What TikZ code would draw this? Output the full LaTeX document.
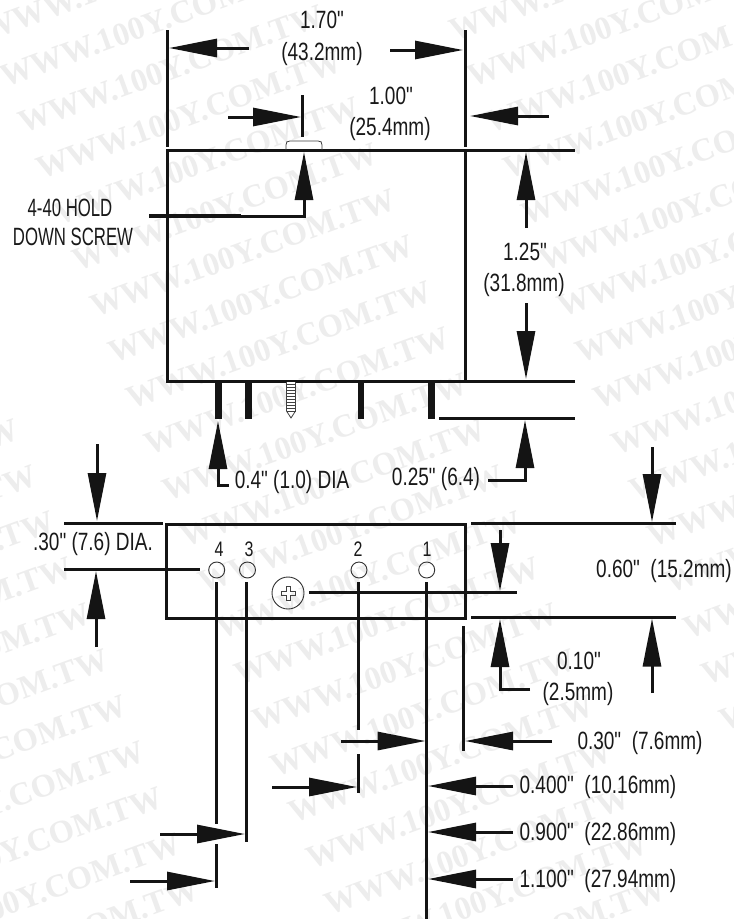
\documentclass[tikz,border=0pt]{standalone}
\usepackage{fontspec}
\usetikzlibrary{arrows.meta}
\newfontfamily\narrowface[FakeStretch=0.76]{Liberation Sans}
\newfontfamily\capsface[FakeStretch=0.67]{Liberation Sans}
\newfontfamily\markface{Liberation Serif Bold}
\tikzset{
  lab/.style={inner sep=0pt,text=black!90,font=\narrowface\fontsize{25}{25}\selectfont},
  capslab/.style={lab,font=\capsface\fontsize{25}{25}\selectfont},
  digitlab/.style={lab,font=\narrowface\fontsize{21}{21}\selectfont},
  outline/.style={line width=3pt,black!92,line cap=butt},
  extline/.style={line width=3pt,black!92},
  dimline/.style={line width=3pt,black!92,-{Triangle[length=48pt,width=18pt,sep=0pt]}},
  thinline/.style={line width=0.8pt,black!75},
  ringnode/.style={circle,draw,black!80,line width=0.9pt,inner sep=0pt},
  pinbar/.style={line width=7pt,black!92},
  wm/.style={inner sep=0pt,rotate=20,text=black!7,font=\markface\fontsize{32.5}{32.5}\selectfont}
}
\begin{document}
\begin{tikzpicture}[x=1pt,y=-1pt]
\useasboundingbox (0,0) rectangle (734,919);
\fill[white] (0,0) rectangle (734,919);
% watermark
\begin{scope}
\clip (0,0) rectangle (734,919);
\foreach \j in {-1,0,1}{
  \foreach \i in {-4,...,20}{
    \pgfmathsetmacro{\cx}{171+18*\i+467*\j}
    \pgfmathsetmacro{\cy}{69+46*\i}
    \pgfmathtruncatemacro{\inpage}{(\cx>-160 && \cx<895 && \cy>-60 && \cy<980) ? 1 : 0}
    \ifnum\inpage=1
      \node[wm] (w\i x\j) at (\cx,\cy) {WWW.100Y.COM.TW};
    \fi
  }
}
\end{scope}
% top view box
\draw[outline] (167,150) rectangle (465,381);
\coordinate (topL) at (167,30);
\coordinate (topLb) at (167,147);
\coordinate (topR) at (465,30);
\coordinate (topRb) at (465,147);
\draw[extline] (topL) -- (topLb);
\draw[extline] (topR) -- (topRb);
% pins
\draw[pinbar] (218,381) -- (218,419);
\draw[pinbar] (248,381) -- (248,419);
\draw[pinbar,line width=6pt] (361,381) -- (361,419);
\draw[pinbar] (431,381) -- (431,419);
% screw (bottom)
\draw[thinline,fill=white] (286.5,382) -- (286.5,411) -- (291,418) -- (295.5,411) -- (295.5,382);
\foreach \yy in {384,387,...,411}{\draw[thinline] (286.5,\yy) -- (295.5,\yy);}
% screw head
\draw[thinline] (286,150) -- (286,145) .. controls (286,142) and (287,141) .. (290,141) -- (318,141) .. controls (321,141) and (322,142) .. (322,145) -- (322,150);
% extension lines top
\draw[extline] (467,150) -- (575,150);
\draw[extline] (467,381) -- (575,381);
\draw[extline] (439,418) -- (575,418);
\draw[extline] (302,95) -- (302,137);
% 1.70 arrows
\draw[dimline] (249,48) -- (169,48);
\draw[dimline] (390,50) -- (463,50);
% 1.00 arrows
\draw[dimline] (228,117) -- (301,117);
\draw[dimline] (549,116) -- (470,116);
% hold-down leader
\draw[dimline] (149,216) -- (304,216) -- (304,152);
\draw[line width=4.5pt,black!92] (149,216) -- (241,216);
% 1.25
\draw[dimline] (526,228) -- (526,152);
\draw[dimline] (526,303) -- (526,379);
% 0.4 dia
\draw[dimline] (229,485) -- (218,485) -- (218,421);
% 0.25
\draw[dimline] (488,480) -- (525,480) -- (525,420);
% bottom view box
\draw[outline] (166,524) rectangle (465,618);
\draw[extline] (64,523.5) -- (163,523.5);
\draw[extline] (64,569) -- (200,569);
\draw[dimline] (97,444) -- (97,521);
\draw[dimline] (96,647) -- (96,571);
% terminals
\node[ringnode,minimum size=16pt] (c4) at (216.7,570) {};
\node[ringnode,minimum size=16pt] (c3) at (247.5,570) {};
\node[ringnode,minimum size=16pt] (c2) at (359,570) {};
\node[ringnode,minimum size=16pt] (c1) at (426.7,570) {};
% screw front
\node[ringnode,minimum size=32pt] (sc) at (288,593) {};
\draw[thinline] (286,586) -- (290,586) -- (290,591) -- (295,591) -- (295,595) -- (290,595) -- (290,600) -- (286,600) -- (286,595) -- (281,595) -- (281,591) -- (286,591) -- cycle;
\draw[extline] (309,592) -- (517,592);
% pin drop lines
\draw[extline] (216.5,582) -- (216.5,824);
\draw[extline] (216.5,844) -- (216.5,888);
\draw[extline] (246,582) -- (246,842);
\draw[extline] (358,582) -- (358,730);
\draw[extline] (358,754) -- (358,793);
\draw[extline] (426.7,582) -- (426.7,919);
\draw[extline] (463,626) -- (463,751);
% right ext lines
\draw[extline] (471,523) -- (676,523);
\draw[extline] (471,617) -- (676,617);
\draw[dimline] (652,447) -- (652,522);
\draw[dimline] (652,693) -- (652,618.5);
\draw[dimline] (500,530) -- (500,591);
\draw[dimline] (530,689) -- (500,689) -- (500,619);
% horizontal dims
\draw[dimline] (341,741) -- (425.5,741);
\draw[dimline] (552,741) -- (465,741);
\draw[dimline] (272,787) -- (357,787);
\draw[dimline] (513,786) -- (428,786);
\draw[dimline] (513,832) -- (428,832);
\draw[dimline] (513,879) -- (428,879);
\draw[dimline] (160,834) -- (245,834);
\draw[dimline] (130,881) -- (215,881);
% labels
\node[lab] (t1) at (322,20) {1.70"};
\node[lab] (t2) at (322,54) {(43.2mm)};
\node[lab] (t3) at (391,96) {1.00"};
\node[lab] (t4) at (390,129) {(25.4mm)};
\node[capslab] (t5) at (70,208) {4-40 HOLD};
\node[capslab] (t6) at (73,237) {DOWN SCREW};
\node[lab] (t7) at (525,252) {1.25"};
\node[lab] (t8) at (524,285) {(31.8mm)};
\node[lab] (t9) at (292,482) {0.4" (1.0) DIA};
\node[lab] (t10) at (436,479) {0.25" (6.4)};
\node[lab] (t11) at (93,544) {.30" (7.6) DIA.};
\node[digitlab] (n4) at (219,549) {4};
\node[digitlab] (n3) at (249,549) {3};
\node[digitlab] (n2) at (358,549) {2};
\node[digitlab] (n1) at (427,549) {1};
\node[lab] (t12) at (664,571) {0.60"\ \ (15.2mm)};
\node[lab] (t13) at (579,661) {0.10"};
\node[lab] (t14) at (578,694) {(2.5mm)};
\node[lab] (t15) at (640,743) {0.30"\ \ (7.6mm)};
\node[lab] (t16) at (598,787) {0.400"\ \ (10.16mm)};
\node[lab] (t17) at (598,834) {0.900"\ \ (22.86mm)};
\node[lab] (t18) at (598,881) {1.100"\ \ (27.94mm)};
\end{tikzpicture}
\end{document}
